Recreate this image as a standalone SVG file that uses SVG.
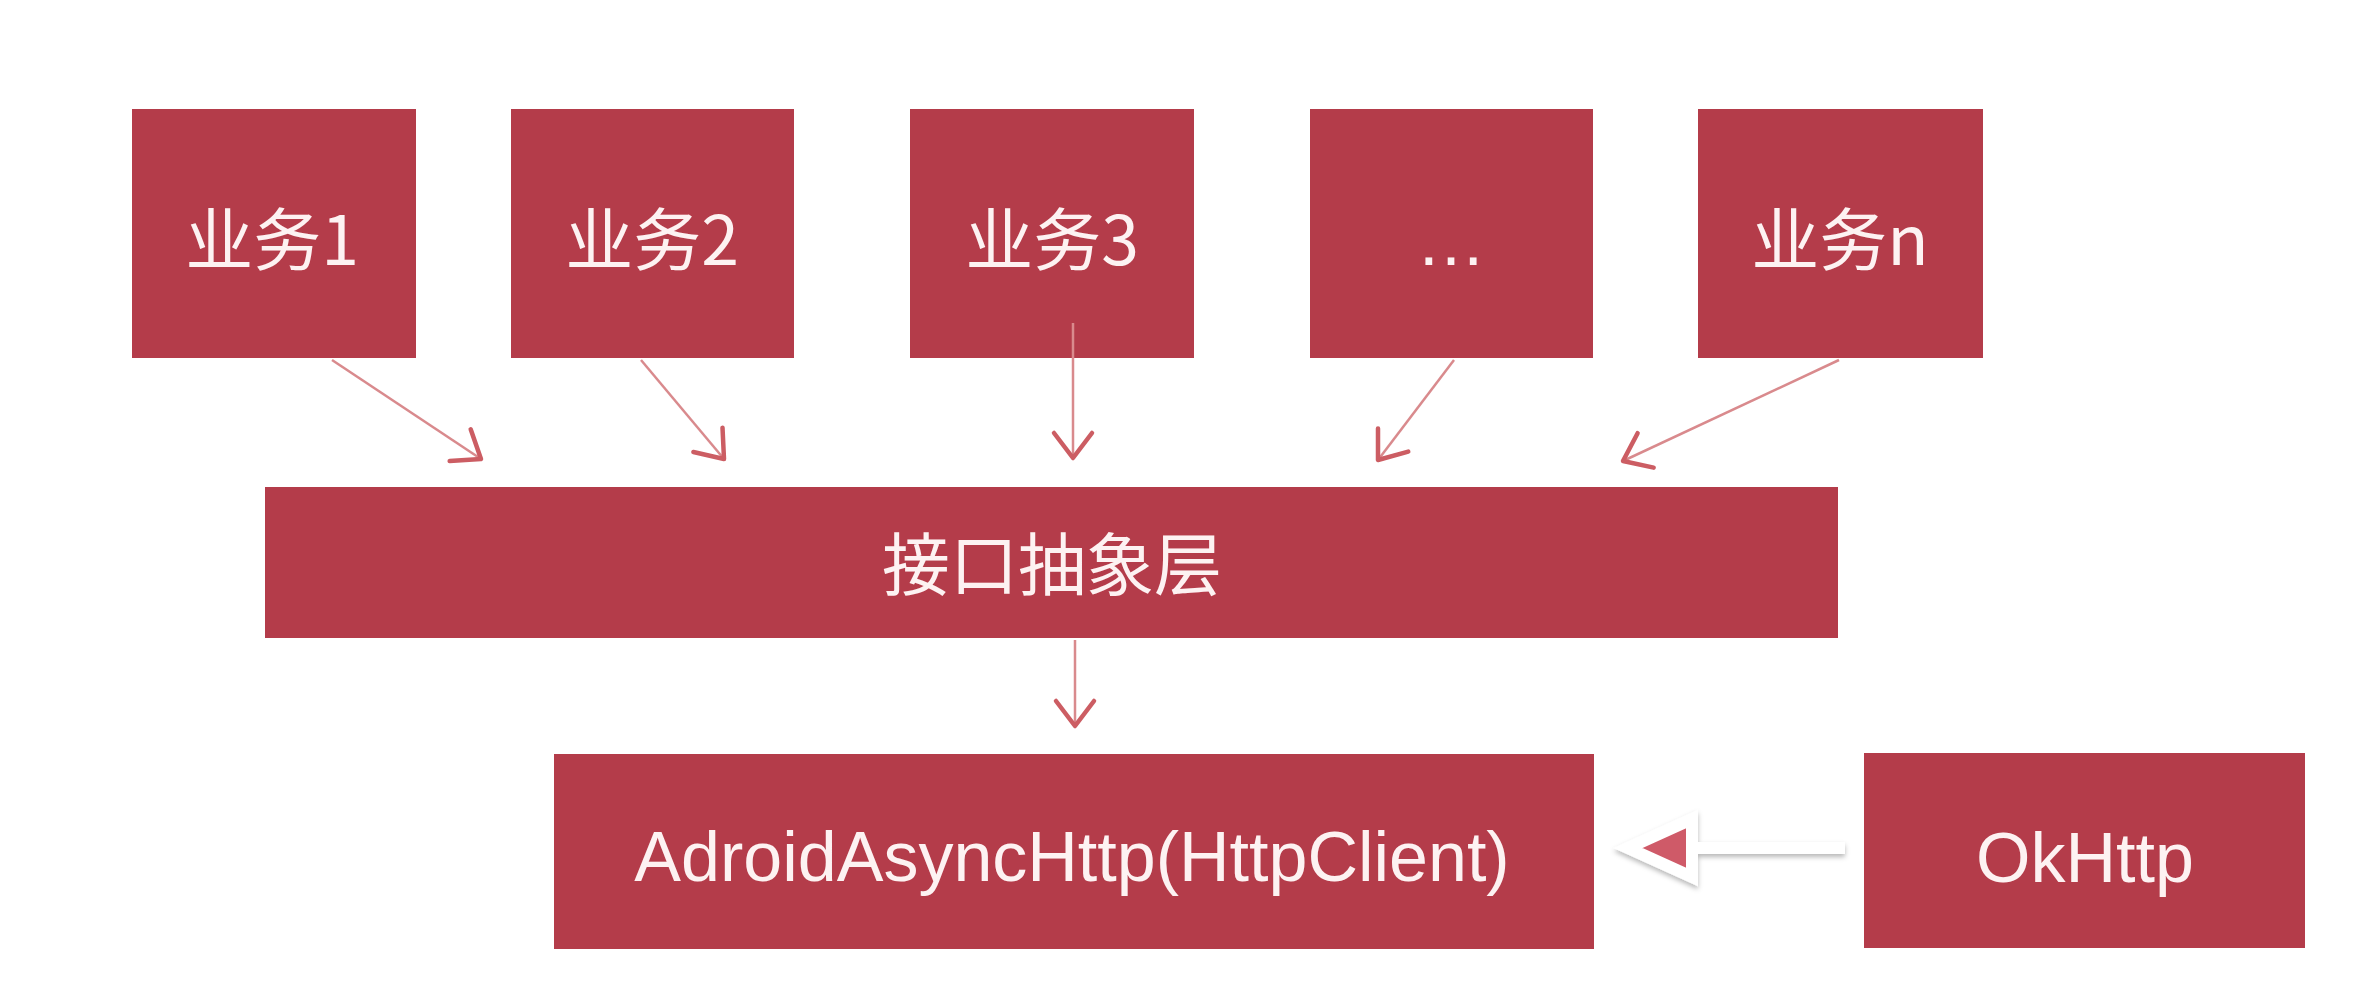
<svg xmlns="http://www.w3.org/2000/svg" width="2364" height="1008" viewBox="0 0 2364 1008">
  <style>
    .box { fill: #b43c4a; }
    .cjk { font-family: "Noto Sans CJK JP", "Noto Sans CJK SC", sans-serif; font-weight: 400; font-size: 68px; fill: #fdf2f2; text-anchor: middle; }
    .lat { font-family: "Liberation Sans", Arial, sans-serif; font-size: 70px; fill: #fdf2f2; text-anchor: middle; }
    .conn { stroke: #d98a8d; stroke-width: 2.5; fill: none; }
  </style>
  <defs>
    <marker id="vhead" markerUnits="userSpaceOnUse" markerWidth="60" markerHeight="60" viewBox="-40 -30 50 60" refX="0" refY="0" orient="auto">
      <path d="M -25,-19 L 0,0 L -25,19" fill="none" stroke="#cc5d63" stroke-width="4.5" stroke-linecap="round" stroke-linejoin="round"/>
    </marker>
    <filter id="shadow" x="-20%" y="-40%" width="140%" height="180%">
      <feDropShadow dx="0" dy="3" stdDeviation="2.5" flood-color="#000" flood-opacity="0.28"/>
    </filter>
  </defs>
  <rect width="2364" height="1008" fill="#ffffff"/>

  <g id="node-biz1"><rect class="box" x="132" y="109" width="284" height="249"/><text class="cjk" x="272" y="265">业务1</text></g>
  <g id="node-biz2"><rect class="box" x="511" y="109" width="283" height="249"/><text class="cjk" x="652" y="265">业务2</text></g>
  <g id="node-biz3"><rect class="box" x="910" y="109" width="284" height="249"/><text class="cjk" x="1052" y="265">业务3</text></g>
  <g id="node-etc"><rect class="box" x="1310" y="109" width="283" height="249"/><text class="lat" x="1451" y="265">…</text></g>
  <g id="node-bizn"><rect class="box" x="1698" y="109" width="285" height="249"/><text class="cjk" x="1840" y="265">业务n</text></g>
  <g id="node-layer"><rect class="box" x="265" y="487" width="1573" height="151"/><text class="cjk" x="1052" y="590">接口抽象层</text></g>
  <g id="node-adroid"><rect class="box" x="554" y="754" width="1040" height="195"/><text class="lat" x="1072" y="881">AdroidAsyncHttp(HttpClient)</text></g>
  <g id="node-okhttp"><rect class="box" x="1864" y="753" width="441" height="195"/><text class="lat" x="2085" y="882">OkHttp</text></g>

  <g id="connectors">
    <line class="conn" x1="332" y1="360" x2="481" y2="459" marker-end="url(#vhead)"/>
    <line class="conn" x1="641" y1="360" x2="724" y2="459" marker-end="url(#vhead)"/>
    <line class="conn" x1="1073" y1="323" x2="1073" y2="458" marker-end="url(#vhead)"/>
    <line class="conn" x1="1454" y1="360" x2="1378" y2="460" marker-end="url(#vhead)"/>
    <line class="conn" x1="1839" y1="360" x2="1623" y2="461" marker-end="url(#vhead)"/>
    <line class="conn" x1="1075" y1="640" x2="1075" y2="726" marker-end="url(#vhead)"/>
    <g id="okhttp-arrow" filter="url(#shadow)">
      <rect x="1696" y="842" width="149" height="12" fill="#ffffff"/>
      <polygon points="1628,848 1692,819 1692,877" fill="#cf5a68" stroke="#ffffff" stroke-width="12" stroke-linejoin="miter"/>
    </g>
  </g>
</svg>
